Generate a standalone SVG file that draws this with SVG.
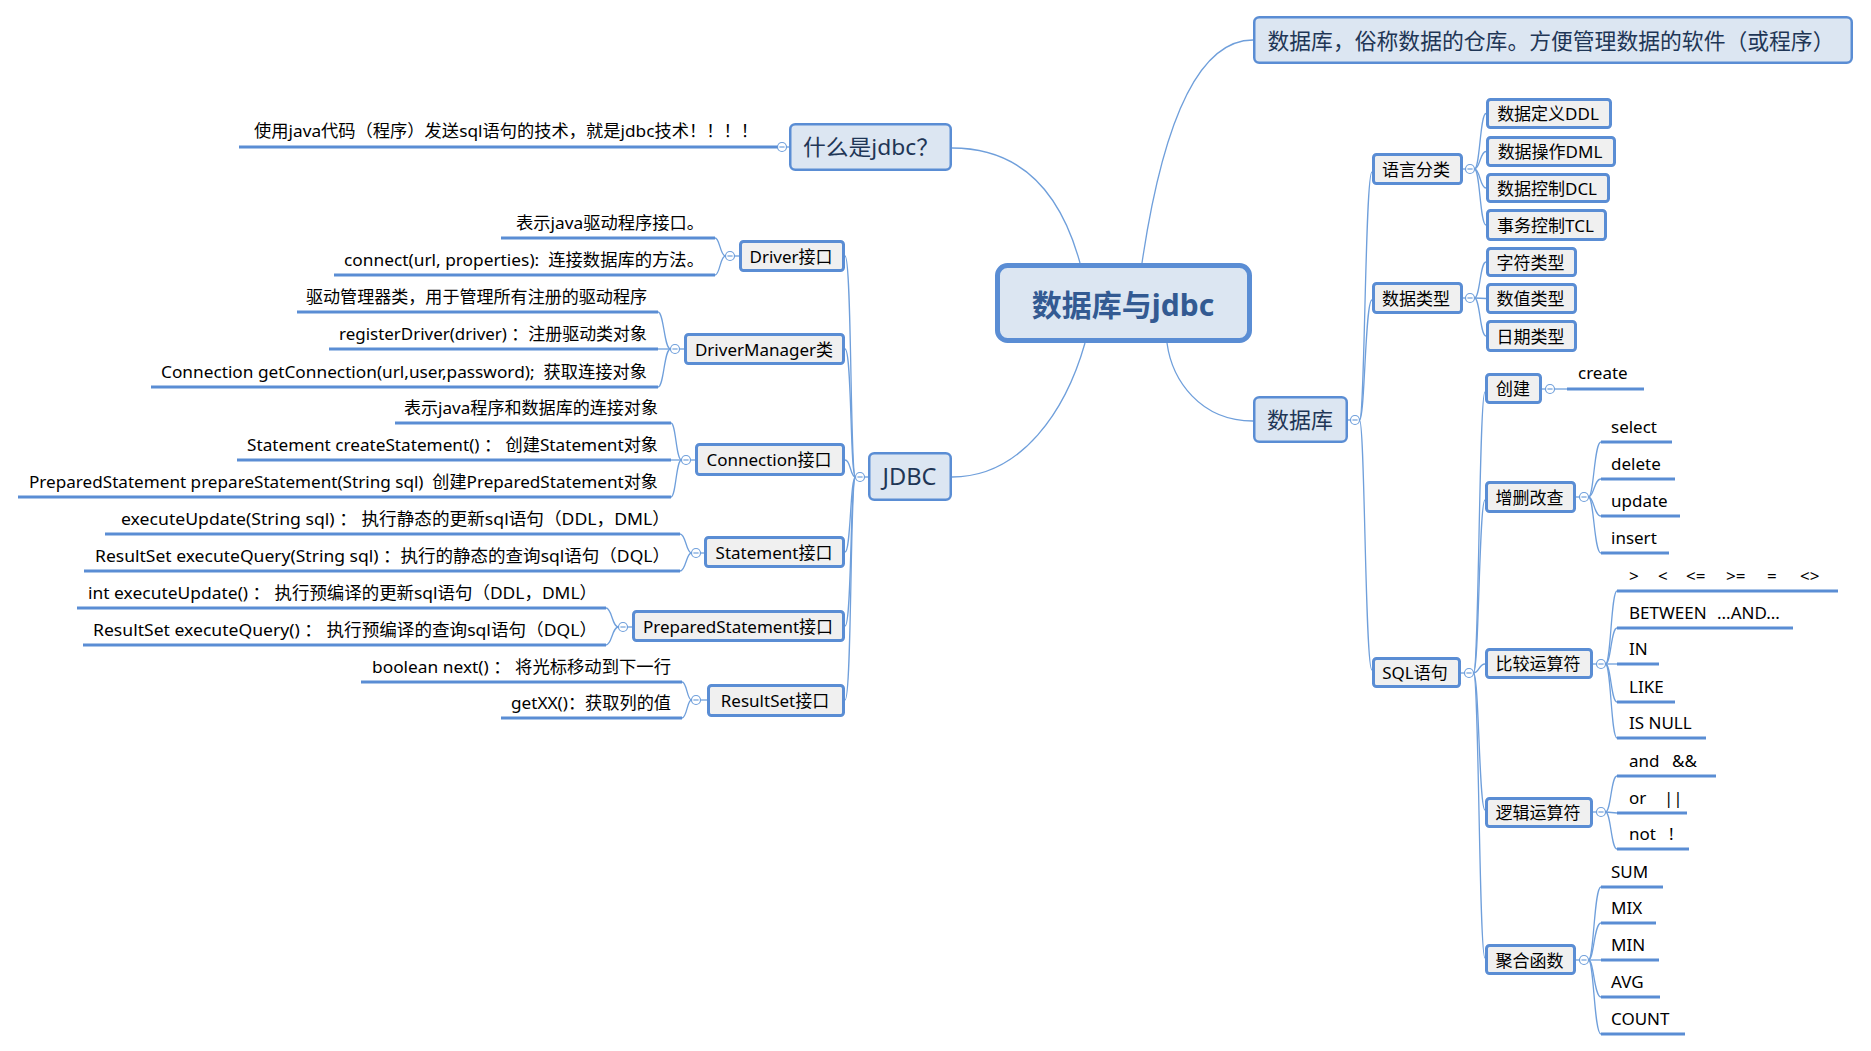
<svg xmlns="http://www.w3.org/2000/svg" xmlns:xlink="http://www.w3.org/1999/xlink" width="1871" height="1051" viewBox="0 0 1871 1051">
<style>
text{font-family:"Noto Sans","Noto Sans CJK SC",sans-serif;fill:#000;}
.conn path,.conn line{fill:none;stroke:#6f9fdb;stroke-width:1.3;}
.ul{fill:none;stroke:#5a8dd4;stroke-width:3;}
.main rect{fill:#dce6f2;stroke:#5a8dd4;stroke-width:2.5;}
.main text{font-size:22px;fill:#1f3656;text-anchor:middle;}
.sub rect{fill:#f0f0f0;stroke:#5a8dd4;stroke-width:3;}
.sub text{font-size:17px;text-anchor:middle;}
.lbl text{font-size:17px;}
.col circle{fill:#fff;stroke:#6f9fdb;stroke-width:1.2;}
.col line{stroke:#6f9fdb;stroke-width:1.2;}
</style>
<defs>
<g id="c" class="col"><circle r="4.5"/><line x1="-2.6" y1="0" x2="2.6" y2="0"/></g>
</defs>
<rect width="1871" height="1051" fill="#fff"/>

<g id="connectors" class="conn">
<!-- central -->
<path d="M1142,263 C1164,114 1201,40 1253,40"/>
<path d="M1167,343 C1172,380 1200,421 1253,421"/>
<path d="M1080,263 C1060,190 1020,148 952,148"/>
<path d="M1085,343 C1066,410 1022,477 952,477"/>
<!-- 什么是jdbc -->
<line x1="789" y1="147" x2="786.5" y2="147"/>
<!-- JDBC spine -->
<line x1="868" y1="477" x2="864.5" y2="477"/>
<path d="M855.5,477 C850,477 852,256 845,256"/>
<path d="M855.5,477 C850,477 852,349 845,349"/>
<path d="M855.5,477 C850,477 851,460 845,460"/>
<path d="M855.5,477 C850,477 851,552 845,552"/>
<path d="M855.5,477 C850,477 852,626 845,626"/>
<path d="M855.5,477 C850,477 852,700 845,700"/>
<!-- Driver -->
<line x1="739" y1="256" x2="734.5" y2="256"/>
<path d="M725.5,256 C720,256 720,238 715,238"/>
<path d="M725.5,256 C720,256 720,275 715,275"/>
<!-- DriverManager -->
<line x1="684" y1="349" x2="679.5" y2="349"/>
<path d="M670.5,349 C664,349 664,312 658,312"/>
<line x1="670.5" y1="349" x2="658" y2="349"/>
<path d="M670.5,349 C664,349 664,387 658,387"/>
<!-- Connection -->
<line x1="695" y1="460" x2="690.5" y2="460"/>
<path d="M681.5,460 C676,460 676,423 671,423"/>
<line x1="681.5" y1="460" x2="671" y2="460"/>
<path d="M681.5,460 C676,460 676,497 671,497"/>
<!-- Statement -->
<line x1="704" y1="553" x2="700.5" y2="553"/>
<path d="M691.5,553 C686,553 686,534 680,534"/>
<path d="M691.5,553 C686,553 686,571 680,571"/>
<!-- PreparedStatement -->
<line x1="632" y1="627" x2="627.5" y2="627"/>
<path d="M618.5,627 C612,627 612,608 606,608"/>
<path d="M618.5,627 C612,627 612,645 606,645"/>
<!-- ResultSet -->
<line x1="707" y1="700" x2="700.5" y2="700"/>
<path d="M691.5,700 C687,700 687,682 682,682"/>
<path d="M691.5,700 C687,700 687,718 682,718"/>
<!-- 数据库 spine -->
<line x1="1348" y1="420" x2="1350.5" y2="420"/>
<path d="M1359.5,420 C1365,420 1365,172 1372,172"/>
<path d="M1359.5,420 C1365,420 1365,300 1372,300"/>
<path d="M1359.5,420 C1365,420 1365,670 1372,670"/>
<!-- 语言分类 -->
<line x1="1463" y1="169" x2="1465.5" y2="169"/>
<path d="M1474.5,169 C1480,169 1480,113.5 1486,113.5"/>
<path d="M1474.5,169 C1480,169 1480,151.5 1486,151.5"/>
<path d="M1474.5,169 C1480,169 1480,188 1486,188"/>
<path d="M1474.5,169 C1480,169 1480,225 1486,225"/>
<!-- 数据类型 -->
<line x1="1463" y1="298" x2="1465.5" y2="298"/>
<path d="M1474.5,298 C1480,298 1480,262 1486,262"/>
<line x1="1474.5" y1="298" x2="1486" y2="298.5"/>
<path d="M1474.5,298 C1480,298 1480,336 1486,336"/>
<!-- SQL语句 -->
<line x1="1461" y1="673" x2="1464.5" y2="673"/>
<path d="M1473.5,673 C1479,673 1479,392 1485,392"/>
<path d="M1473.5,673 C1479,673 1479,500 1485,500"/>
<path d="M1473.5,673 C1479,673 1479,664 1485,664"/>
<path d="M1473.5,673 C1479,673 1479,810 1485,810"/>
<path d="M1473.5,673 C1479,673 1479,958 1485,958"/>
<!-- 创建 -->
<line x1="1542" y1="389" x2="1545.5" y2="389"/>
<line x1="1554.5" y1="389" x2="1567" y2="389"/>
<!-- 增删改查 -->
<line x1="1576" y1="497" x2="1579.5" y2="497"/>
<path d="M1588.5,497 C1594,497 1594,442 1601,442"/>
<path d="M1588.5,497 C1594,497 1594,479 1601,479"/>
<path d="M1588.5,497 C1594,497 1594,516 1601,516"/>
<path d="M1588.5,497 C1594,497 1594,553 1601,553"/>
<!-- 比较运算符 -->
<line x1="1593" y1="664" x2="1596.5" y2="664"/>
<path d="M1605.5,664 C1611,664 1611,591 1617,591"/>
<path d="M1605.5,664 C1611,664 1611,628 1617,628"/>
<line x1="1605.5" y1="664" x2="1617" y2="664"/>
<path d="M1605.5,664 C1611,664 1611,702 1617,702"/>
<path d="M1605.5,664 C1611,664 1611,738 1617,738"/>
<!-- 逻辑运算符 -->
<line x1="1593" y1="812" x2="1596.5" y2="812"/>
<path d="M1605.5,812 C1611,812 1611,776 1617,776"/>
<line x1="1605.5" y1="812" x2="1617" y2="813"/>
<path d="M1605.5,812 C1611,812 1611,849 1617,849"/>
<!-- 聚合函数 -->
<line x1="1576" y1="960" x2="1579.5" y2="960"/>
<path d="M1588.5,960 C1594,960 1594,887 1601,887"/>
<path d="M1588.5,960 C1594,960 1594,923 1601,923"/>
<line x1="1588.5" y1="960" x2="1601" y2="960"/>
<path d="M1588.5,960 C1594,960 1594,997 1601,997"/>
<path d="M1588.5,960 C1594,960 1594,1034 1601,1034"/>
</g>

<g id="collapse-markers">
<use xlink:href="#c" x="782" y="147"/>
<use xlink:href="#c" x="860" y="477"/>
<use xlink:href="#c" x="730" y="256"/>
<use xlink:href="#c" x="675" y="349"/>
<use xlink:href="#c" x="686" y="460"/>
<use xlink:href="#c" x="696" y="553"/>
<use xlink:href="#c" x="623" y="627"/>
<use xlink:href="#c" x="696" y="700"/>
<use xlink:href="#c" x="1355" y="420"/>
<use xlink:href="#c" x="1470" y="169"/>
<use xlink:href="#c" x="1470" y="298"/>
<use xlink:href="#c" x="1469" y="673"/>
<use xlink:href="#c" x="1550" y="389"/>
<use xlink:href="#c" x="1584" y="497"/>
<use xlink:href="#c" x="1601" y="664"/>
<use xlink:href="#c" x="1601" y="812"/>
<use xlink:href="#c" x="1584" y="960"/>
</g>

<!-- central -->
<g id="n-root">
<rect x="997.5" y="265.5" width="252" height="75" rx="10" fill="#dce6f2" stroke="#5a8dd4" stroke-width="5"/>
<text x="1123" y="316" font-size="30" font-weight="bold" text-anchor="middle" style="fill:#335a92">数据库与jdbc</text>
</g>

<!-- main branches -->
<g id="n-dbdesc" class="main">
<rect x="1254.25" y="17.25" width="597.5" height="45.5" rx="5"/>
<text x="1551" y="48.5" textLength="567" lengthAdjust="spacingAndGlyphs">数据库，俗称数据的仓库。方便管理数据的软件（或程序）</text>
</g>
<g id="n-whatjdbc" class="main">
<rect x="790.25" y="124.25" width="160.5" height="45.5" rx="5"/>
<text x="871" y="155" textLength="136" lengthAdjust="spacingAndGlyphs">什么是jdbc？</text>
</g>
<g id="n-jdbc" class="main">
<rect x="869.25" y="453.25" width="81.5" height="46.5" rx="5"/>
<text x="909.5" y="485" font-size="24" style="font-size:24px" textLength="54" lengthAdjust="spacingAndGlyphs">JDBC</text>
</g>
<g id="n-db" class="main">
<rect x="1254.25" y="397.25" width="92.5" height="44.5" rx="5"/>
<text x="1300" y="428">数据库</text>
</g>

<!-- JDBC children -->
<g id="n-driver" class="sub"><rect x="740.5" y="241.5" width="103" height="29" rx="3"/><text x="791" y="262.5">Driver接口</text></g>
<g id="n-drivermanager" class="sub"><rect x="685.5" y="334.5" width="158" height="29" rx="3"/><text x="764" y="355.5">DriverManager类</text></g>
<g id="n-connection" class="sub"><rect x="696.5" y="444.5" width="147" height="30" rx="3"/><text x="769" y="466">Connection接口</text></g>
<g id="n-statement" class="sub"><rect x="705.5" y="537.5" width="138" height="29" rx="3"/><text x="774" y="558.5">Statement接口</text></g>
<g id="n-prepared" class="sub"><rect x="633.5" y="611.5" width="210" height="29" rx="3"/><text x="738" y="632.5">PreparedStatement接口</text></g>
<g id="n-resultset" class="sub"><rect x="708.5" y="685.5" width="135" height="30" rx="3"/><text x="775" y="707">ResultSet接口</text></g>

<!-- 数据库 children -->
<g id="n-lang" class="sub"><rect x="1373.5" y="154.5" width="88" height="29" rx="3"/><text x="1416" y="175.5">语言分类</text></g>
<g id="n-types" class="sub"><rect x="1373.5" y="283.5" width="88" height="29" rx="3"/><text x="1416" y="304.5">数据类型</text></g>
<g id="n-sql" class="sub"><rect x="1373.5" y="658.5" width="86" height="28" rx="3"/><text x="1415" y="679">SQL语句</text></g>

<g id="n-ddl" class="sub"><rect x="1487.5" y="99.5" width="123" height="28" rx="3"/><text x="1548" y="120">数据定义DDL</text></g>
<g id="n-dml" class="sub"><rect x="1487.5" y="137.5" width="127" height="28" rx="3"/><text x="1550" y="158">数据操作DML</text></g>
<g id="n-dcl" class="sub"><rect x="1487.5" y="174.5" width="121" height="27" rx="3"/><text x="1547" y="194.5">数据控制DCL</text></g>
<g id="n-tcl" class="sub"><rect x="1487.5" y="210.5" width="118" height="29" rx="3"/><text x="1545.5" y="231.5">事务控制TCL</text></g>
<g id="n-char" class="sub"><rect x="1487.5" y="248.5" width="88" height="27" rx="3"/><text x="1530.5" y="268.5">字符类型</text></g>
<g id="n-num" class="sub"><rect x="1487.5" y="284.5" width="88" height="28" rx="3"/><text x="1530.5" y="305">数值类型</text></g>
<g id="n-date" class="sub"><rect x="1487.5" y="321.5" width="88" height="29" rx="3"/><text x="1530.5" y="342.5">日期类型</text></g>

<g id="n-create" class="sub"><rect x="1486.5" y="374.5" width="54" height="28" rx="3"/><text x="1513" y="395">创建</text></g>
<g id="n-crud" class="sub"><rect x="1486.5" y="482.5" width="88" height="29" rx="3"/><text x="1529.5" y="503.5">增删改查</text></g>
<g id="n-compare" class="sub"><rect x="1486.5" y="649.5" width="105" height="28" rx="3"/><text x="1538" y="670">比较运算符</text></g>
<g id="n-logic" class="sub"><rect x="1486.5" y="798.5" width="105" height="28" rx="3"/><text x="1538" y="819">逻辑运算符</text></g>
<g id="n-agg" class="sub"><rect x="1486.5" y="945.5" width="88" height="28" rx="3"/><text x="1529.5" y="966.5">聚合函数</text></g>

<!-- left labels -->
<g id="t-jdbcdef" class="lbl"><path class="ul" d="M239,147 H777.5"/><text x="254" y="137" xml:space="preserve" textLength="504" lengthAdjust="spacingAndGlyphs">使用java代码（程序）发送sql语句的技术，就是jdbc技术！！！！</text></g>
<g id="t-drv1" class="lbl"><path class="ul" d="M501,238 H715"/><text x="516" y="229" xml:space="preserve" textLength="188" lengthAdjust="spacingAndGlyphs">表示java驱动程序接口。</text></g>
<g id="t-drv2" class="lbl"><path class="ul" d="M334,275 H715"/><text x="344" y="266" xml:space="preserve" textLength="360" lengthAdjust="spacingAndGlyphs">connect(url, properties):  连接数据库的方法。</text></g>
<g id="t-dm1" class="lbl"><path class="ul" d="M297,312 H658"/><text x="306" y="303" xml:space="preserve" textLength="341" lengthAdjust="spacingAndGlyphs">驱动管理器类，用于管理所有注册的驱动程序</text></g>
<g id="t-dm2" class="lbl"><path class="ul" d="M329,349 H658"/><text x="339" y="340" xml:space="preserve" textLength="308" lengthAdjust="spacingAndGlyphs">registerDriver(driver) ：注册驱动类对象</text></g>
<g id="t-dm3" class="lbl"><path class="ul" d="M151,387 H658"/><text x="161" y="378" xml:space="preserve" textLength="486" lengthAdjust="spacingAndGlyphs">Connection getConnection(url,user,password);  获取连接对象</text></g>
<g id="t-con1" class="lbl"><path class="ul" d="M395,423 H671"/><text x="404" y="414" xml:space="preserve" textLength="254" lengthAdjust="spacingAndGlyphs">表示java程序和数据库的连接对象</text></g>
<g id="t-con2" class="lbl"><path class="ul" d="M237,460 H671"/><text x="247" y="451" xml:space="preserve" textLength="411" lengthAdjust="spacingAndGlyphs">Statement createStatement() ： 创建Statement对象</text></g>
<g id="t-con3" class="lbl"><path class="ul" d="M18,497 H671"/><text x="29" y="488" xml:space="preserve" textLength="629" lengthAdjust="spacingAndGlyphs">PreparedStatement prepareStatement(String sql)  创建PreparedStatement对象</text></g>
<g id="t-st1" class="lbl"><path class="ul" d="M105,534 H680"/><text x="121" y="525" xml:space="preserve" textLength="549" lengthAdjust="spacingAndGlyphs">executeUpdate(String sql) ： 执行静态的更新sql语句（DDL，DML）</text></g>
<g id="t-st2" class="lbl"><path class="ul" d="M84,571 H680"/><text x="95" y="562" xml:space="preserve" textLength="575" lengthAdjust="spacingAndGlyphs">ResultSet executeQuery(String sql) ：执行的静态的查询sql语句（DQL）</text></g>
<g id="t-ps1" class="lbl"><path class="ul" d="M77,608 H606"/><text x="88" y="599" xml:space="preserve" textLength="509" lengthAdjust="spacingAndGlyphs">int executeUpdate() ： 执行预编译的更新sql语句（DDL，DML）</text></g>
<g id="t-ps2" class="lbl"><path class="ul" d="M83,645 H606"/><text x="93" y="636" xml:space="preserve" textLength="504" lengthAdjust="spacingAndGlyphs">ResultSet executeQuery() ： 执行预编译的查询sql语句（DQL）</text></g>
<g id="t-rs1" class="lbl"><path class="ul" d="M361,682 H682"/><text x="372" y="673" xml:space="preserve" textLength="299" lengthAdjust="spacingAndGlyphs">boolean next() ： 将光标移动到下一行</text></g>
<g id="t-rs2" class="lbl"><path class="ul" d="M501,718 H682"/><text x="511" y="709" xml:space="preserve" textLength="160" lengthAdjust="spacingAndGlyphs">getXX()：获取列的值</text></g>

<!-- right labels -->
<g id="t-create" class="lbl"><path class="ul" d="M1567,389 H1644"/><text x="1578" y="379">create</text></g>
<g id="t-select" class="lbl"><path class="ul" d="M1601,442 H1672"/><text x="1611" y="432.5">select</text></g>
<g id="t-delete" class="lbl"><path class="ul" d="M1601,479 H1675"/><text x="1611" y="469.5">delete</text></g>
<g id="t-update" class="lbl"><path class="ul" d="M1601,516 H1680"/><text x="1611" y="506.5">update</text></g>
<g id="t-insert" class="lbl"><path class="ul" d="M1601,553 H1669"/><text x="1611" y="543.5">insert</text></g>
<g id="t-ops" class="lbl"><path class="ul" d="M1617,591 H1838"/><text y="581.5"><tspan x="1629">&gt;</tspan><tspan x="1658">&lt;</tspan><tspan x="1686">&lt;=</tspan><tspan x="1726">&gt;=</tspan><tspan x="1767">=</tspan><tspan x="1800">&lt;&gt;</tspan></text></g>
<g id="t-between" class="lbl"><path class="ul" d="M1617,628 H1793"/><text y="618.5"><tspan x="1629">BETWEEN</tspan><tspan x="1717">...AND...</tspan></text></g>
<g id="t-in" class="lbl"><path class="ul" d="M1617,664 H1659"/><text x="1629" y="654.5">IN</text></g>
<g id="t-like" class="lbl"><path class="ul" d="M1617,702 H1675"/><text x="1629" y="692.5">LIKE</text></g>
<g id="t-isnull" class="lbl"><path class="ul" d="M1617,738 H1706"/><text x="1629" y="728.5">IS NULL</text></g>
<g id="t-and" class="lbl"><path class="ul" d="M1617,776 H1716"/><text y="766.5"><tspan x="1629">and</tspan><tspan x="1672">&amp;&amp;</tspan></text></g>
<g id="t-or" class="lbl"><path class="ul" d="M1617,813 H1687"/><text y="803.5"><tspan x="1629">or</tspan><tspan x="1664">||</tspan></text></g>
<g id="t-not" class="lbl"><path class="ul" d="M1617,849 H1689"/><text y="839.5"><tspan x="1629">not</tspan><tspan x="1669">!</tspan></text></g>
<g id="t-sum" class="lbl"><path class="ul" d="M1601,887 H1663"/><text x="1611" y="877.5">SUM</text></g>
<g id="t-mix" class="lbl"><path class="ul" d="M1601,923 H1656"/><text x="1611" y="913.5">MIX</text></g>
<g id="t-min" class="lbl"><path class="ul" d="M1601,960 H1659"/><text x="1611" y="950.5">MIN</text></g>
<g id="t-avg" class="lbl"><path class="ul" d="M1601,997 H1660"/><text x="1611" y="987.5">AVG</text></g>
<g id="t-count" class="lbl"><path class="ul" d="M1601,1034 H1685"/><text x="1611" y="1024.5">COUNT</text></g>
</svg>
